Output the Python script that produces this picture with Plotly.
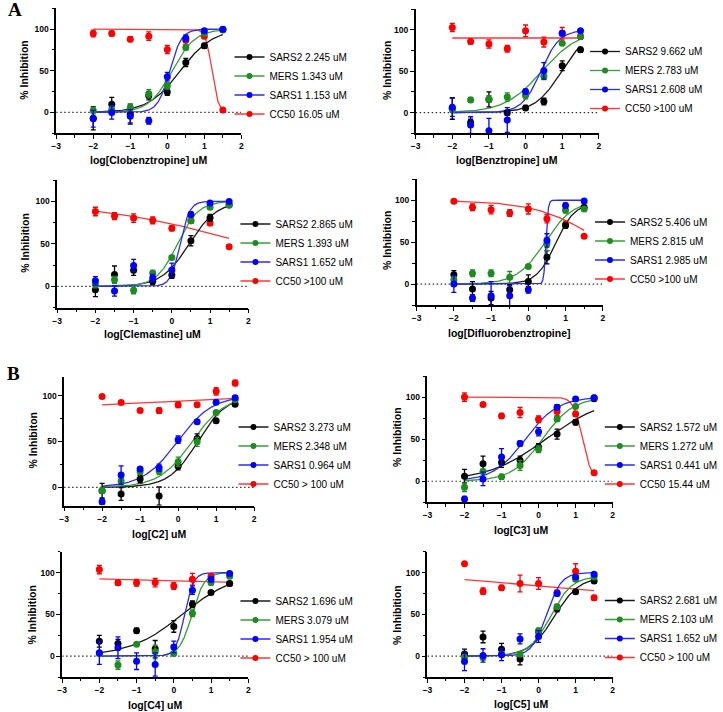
import numpy as np
import plotly.graph_objects as go

W, H = 723, 712

log_conc = [-2, -1.5, -1, -0.5, 0, 0.5, 1, 1.5]
series_names = ["SARS2", "MERS", "SARS1", "CC50"]
point_colors = ["#000000", "#1e8c1e", "#0000ff", "#ff0000"]
curve_colors = ["#1a1a1a", "#35a035", "#2a2aff", "#ff3535"]

# ---------- Panel A1: Clobenztropine ----------
clob_sars2 = [-7, 10, -2, 20, 24.5, 60, 80, 99.5]
clob_sars2_err = [14, 8, 12, 5, 4, 5, 3, 2]
clob_mers = [2.4, 3.6, 6, 22.5, 32, 78, 95, 99]
clob_mers_err = [4, 4, 4, 5, 4, 3, 2, 1]
clob_sars1 = [-7.6, 0, -4.5, -10, 43, 89, 98, 100]
clob_sars1_err = [10, 8, 8, 4, 5, 4, 2, 1]
clob_cc50 = [94.8, 94.8, 88, 91.6, 75.5, 86.7, 91.6, 3]
clob_cc50_err = [4, 3, 3, 5, 5, 5, 3, 1]
# fit params: bottom, top, logIC50, hill
clob_fits = [[0, 100, 0.351, 1.0], [0, 100, 0.128, 1.4], [0, 100, 0.062, 2.7], [0, 100, 1.205, -5.0]]
clob_labels = ["SARS2 2.245 uM", "MERS 1.343 uM", "SARS1 1.153 uM", "CC50 16.05 uM"]

# ---------- Panel A2: Benztropine ----------
benz_sars2 = [5, -12, 16, 0, 5.7, 13.4, 56.7, 76]
benz_sars2_err = [13, 4, 9, 3, 3, 4, 6, 3]
benz_mers = [4, 15.4, 16.6, 19, 20.6, 44, 84, 92]
benz_mers_err = [4, 3, 4, 5, 4, 4, 2, 2]
benz_sars1 = [6.5, -15, -22, -9, 25.5, 50.6, 96, 99]
benz_sars1_err = [11, 10, 15, 15, 3, 10, 3, 1]
benz_cc50 = [103, 86, 83, 77.3, 99, 85.4, 96, 92]
benz_cc50_err = [5, 3, 5, 4, 7, 6, 7, 3]
benz_fits = [[0, 100, 0.985, 1.2], [0, 100, 0.4445, 0.86], [0, 100, 0.416, 1.7], [90.3, 90.3, 0.0, 1.0]]
benz_labels = ["SARS2 9.662 uM", "MERS 2.783 uM", "SARS1 2.608 uM", "CC50 >100 uM"]

# ---------- Panel A3: Clemastine ----------
clem_sars2 = [-4, 14, 19, 6, 13.5, 53.7, 80.7, 95.8]
clem_sars2_err = [8, 10, 6, 4, 4, 6, 4, 2]
clem_mers = [2.3, 7.7, -4.6, 15.8, 34, 77.2, 93, 95.4]
clem_mers_err = [4, 4, 4, 3, 2, 2, 2, 2]
clem_sars1 = [6.6, -5.4, 24.7, 10, 19.3, 84.6, 98, 99.6]
clem_sars1_err = [5, 6, 7, 4, 8, 3, 2, 1]
clem_cc50 = [88, 82.6, 80.3, 77.6, 68.3, 77.2, 74.5, 46.7]
clem_cc50_err = [5, 4, 5, 4, 3, 3, 3, 2]
clem_fits = [[0, 100, 0.457, 1.2], [0, 100, 0.144, 1.6], [0, 100, 0.218, 3.5], [0, 100, 2.0, -0.22]]
clem_labels = ["SARS2 2.865 uM", "MERS 1.393 uM", "SARS1 1.652 uM", "CC50 >100 uM"]

# ---------- Panel A4: Difluorobenztropine ----------
difl_sars2 = [11, -6, -16.7, -6.8, 3, 32, 70, 91.6]
difl_sars2_err = [5, 9, 8, 6, 8, 8, 3, 2]
difl_mers = [5, 13, 13, 8, 21, 48, 88, 89.6]
difl_mers_err = [4, 4, 4, 7, 2, 8, 3, 2]
difl_sars1 = [0, -16.7, -14, -14, -6.8, 52, 93.6, 99.2]
difl_sars1_err = [10, 4, 17, 12, 4, 8, 3, 1]
difl_cc50 = [98.8, 91.6, 88.8, 84.9, 89.6, 78, 71, 57]
difl_cc50_err = [2, 4, 5, 4, 6, 5, 4, 2]
difl_fits = [[0, 97, 0.733, 1.7], [0, 100, 0.449, 1.15], [0, 100, 0.475, 15.0], [0, 100, 2.0, -0.5]]
difl_labels = ["SARS2 5.406 uM", "MERS 2.815 uM", "SARS1 2.985 uM", "CC50 >100 uM"]

# ---------- Panel B1: C2 ----------
c2_sars2 = [-3.6, -7.2, 9, -9.4, 23, 53.3, 72.5, 90.6]
c2_sars2_err = [8, 7, 4, 10, 4, 5, 2, 2]
c2_mers = [-3.6, 6.9, 17, 17.8, 28, 49.6, 81.5, 95.6]
c2_mers_err = [3, 3, 3, 4, 5, 5, 2, 2]
c2_sars1 = [-15.6, 13.4, 20, 21.4, 52, 71.4, 92.8, 97.8]
c2_sars1_err = [3, 10, 2, 4, 4, 2, 2, 2]
c2_cc50 = [99, 92.4, 83.7, 83.7, 90, 90.2, 104.7, 113.8]
c2_cc50_err = [2, 2, 2, 3, 3, 2, 4, 3]
c2_fits = [[0, 100, 0.515, 1.15], [0, 100, 0.371, 1.0], [0, 100, -0.016, 0.95], [73.5, 113.5, -0.25, 0.087]]
c2_labels = ["SARS2 3.273 uM", "MERS 2.348 uM", "SARS1 0.964 uM", "CC50 > 100 uM"]

# ---------- Panel B2: C3 ----------
c3_sars2 = [6, 20.8, 22.4, 24.8, 40.8, 56, 70, 98]
c3_sars2_err = [8, 9, 6, 5, 4, 6, 3, 2]
c3_mers = [-7.2, 11.6, 5.2, 18.8, 38, 74, 88.8, 99.2]
c3_mers_err = [5, 3, 3, 6, 4, 3, 2, 1]
c3_sars1 = [-21, 2.8, 28.8, 44.8, 58.8, 88, 97.6, 99.2]
c3_sars1_err = [3, 8, 10, 3, 5, 3, 2, 1]
c3_cc50 = [100, 91.2, 77.6, 81.6, 73.6, 82.8, 80, 10]
c3_cc50_err = [5, 2, 3, 6, 4, 5, 3, 1]
c3_fits = [[0, 100, 0.196, 0.55], [0, 100, 0.1045, 1.05], [0, 100, -0.356, 1.0], [0, 100, 1.189, -3.5]]
c3_labels = ["SARS2 1.572 uM", "MERS 1.272 uM", "SARS1 0.441 uM", "CC50 15.44 uM"]

# ---------- Panel B3: C4 ----------
c4_sars2 = [17.8, 15, 30.4, 8.7, 35.6, 62, 76.3, 87]
c4_sars2_err = [7, 5, 3, 10, 7, 4, 2, 2]
c4_mers = [3.2, -10.7, 14.2, 5.1, 3.2, 51.4, 88, 95.6]
c4_mers_err = [3, 5, 2, 8, 2, 4, 3, 2]
c4_sars1 = [4, 10, -6, -10, 11, 79, 92, 98.8]
c4_sars1_err = [14, 13, 10, 14, 7, 5, 3, 1]
c4_cc50 = [103.6, 87.7, 87.7, 88, 84, 92, 95.6, 87]
c4_cc50_err = [5, 3, 4, 5, 4, 7, 3, 2]
c4_fits = [[0, 100, 0.229, 0.62], [0, 100, 0.488, 2.6], [0, 100, 0.291, 3.6], [70.5, 110.5, -0.25, -0.05]]
c4_labels = ["SARS2 1.696 uM", "MERS 3.079 uM", "SARS1 1.954 uM", "CC50 > 100 uM"]

# ---------- Panel B4: C5 ----------
c5_sars2 = [2.4, 23, 8.3, -3.6, 29.4, 57, 77, 90]
c5_sars2_err = [6, 7, 7, 7, 3, 4, 2, 2]
c5_mers = [-1.6, -1.6, 2.4, 2.4, 30.5, 59, 92, 94.8]
c5_mers_err = [3, 3, 3, 3, 3, 3, 2, 2]
c5_sars1 = [-6.3, 0.8, 1.6, 20.6, 23.4, 75, 94.8, 98]
c5_sars1_err = [11, 8, 7, 6, 7, 3, 2, 1]
c5_cc50 = [110.7, 77.8, 81.7, 86.9, 86.9, 76, 101.6, 69.8]
c5_cc50_err = [2, 4, 3, 10, 7, 3, 9, 3]
c5_fits = [[0, 95, 0.428, 1.3], [0, 96, 0.323, 1.5], [0, 100, 0.218, 2.2], [65, 105, -0.25, -0.17]]
c5_labels = ["SARS2 2.681 uM", "MERS 2.103 uM", "SARS1 1.652 uM", "CC50 > 100 uM"]

x_titles = ["log[Clobenztropine] uM", "log[Benztropine] uM", "log[Clemastine] uM",
            "log[Difluorobenztropine]", "log[C2] uM", "log[C3] uM", "log[C4] uM", "log[C5] uM"]
y_titles = ["% Inhibition", "% Inhibition", "% Inhibition", "% Inhibition",
            "% Inhibiton", "% Inhibition", "% Inhibition", "% Inhibition"]

panels = [
    ([clob_sars2, clob_mers, clob_sars1, clob_cc50],
     [clob_sars2_err, clob_mers_err, clob_sars1_err, clob_cc50_err], clob_fits, clob_labels),
    ([benz_sars2, benz_mers, benz_sars1, benz_cc50],
     [benz_sars2_err, benz_mers_err, benz_sars1_err, benz_cc50_err], benz_fits, benz_labels),
    ([clem_sars2, clem_mers, clem_sars1, clem_cc50],
     [clem_sars2_err, clem_mers_err, clem_sars1_err, clem_cc50_err], clem_fits, clem_labels),
    ([difl_sars2, difl_mers, difl_sars1, difl_cc50],
     [difl_sars2_err, difl_mers_err, difl_sars1_err, difl_cc50_err], difl_fits, difl_labels),
    ([c2_sars2, c2_mers, c2_sars1, c2_cc50],
     [c2_sars2_err, c2_mers_err, c2_sars1_err, c2_cc50_err], c2_fits, c2_labels),
    ([c3_sars2, c3_mers, c3_sars1, c3_cc50],
     [c3_sars2_err, c3_mers_err, c3_sars1_err, c3_cc50_err], c3_fits, c3_labels),
    ([c4_sars2, c4_mers, c4_sars1, c4_cc50],
     [c4_sars2_err, c4_mers_err, c4_sars1_err, c4_cc50_err], c4_fits, c4_labels),
    ([c5_sars2, c5_mers, c5_sars1, c5_cc50],
     [c5_sars2_err, c5_mers_err, c5_sars1_err, c5_cc50_err], c5_fits, c5_labels),
]

# ---------- layout geometry (pixels) ----------
# plot area: x_left, x_right, y_top, y_bottom
plot_px = [(52, 240, 8.3, 133.3), (417, 603, 9.3, 133.3), (53, 247, 180, 307.7), (418, 607, 179.3, 305),
           (60, 253, 377.3, 505.7), (429, 617, 376, 502.3), (58, 247, 551.7, 677), (429, 617, 551.7, 677)]
y_ranges = [[-25, 125]] * 4 + [[-20, 120]] + [[-25, 125]] * 3
# legend: text left x, vertical middle of the 4 rows
legend_px = [(267, 85), (628, 79.5), (273, 252), (633, 250), (271, 455), (643, 455), (273, 629), (643, 628.5)]
xtitle_px = [(146, 160), (510, 160), (150, 334), (512, 333), (156, 534), (524, 530), (152, 705), (524, 704)]
ytitle_px = [(19, 70), (388, 70), (20, 243), (388, 240), (28, 440), (398, 437), (27, 615), (398, 615)]


def px_x(v):
    return v / W


def px_y(v):
    return 1 - v / H


def four_pl(xs, p):
    bottom, top, logic, hill = p
    xs = np.asarray(xs, dtype=float)
    return bottom + (top - bottom) / (1 + 10 ** ((logic - xs) * hill))


fig = go.Figure()
xfit = np.linspace(-2, 1.5, 500)
draw_order = [3, 0, 1, 2]
FONT = "Liberation Sans, Arial, sans-serif"

annotations = []
shapes = []
for i, (vals, errs, fits, labels) in enumerate(panels):
    n = i + 1
    xa = "x" if n == 1 else f"x{n}"
    ya = "y" if n == 1 else f"y{n}"
    lg = "legend" if n == 1 else f"legend{n}"
    # curves
    for k in draw_order:
        fig.add_trace(go.Scatter(x=xfit, y=four_pl(xfit, fits[k]), mode="lines",
                                 line=dict(color=curve_colors[k], width=1.3),
                                 xaxis=xa, yaxis=ya, showlegend=False, hoverinfo="skip"))
    # points with error bars
    for k in draw_order:
        fig.add_trace(go.Scatter(x=log_conc, y=vals[k], mode="markers",
                                 marker=dict(color=point_colors[k], size=7),
                                 error_y=dict(type="data", array=errs[k], visible=True,
                                              color=point_colors[k], thickness=1.3, width=2.5),
                                 xaxis=xa, yaxis=ya, showlegend=False))
    # legend entries
    for k in range(4):
        fig.add_trace(go.Scatter(x=[None], y=[None], mode="lines+markers", name=labels[k],
                                 marker=dict(color=point_colors[k], size=6),
                                 line=dict(color=curve_colors[k], width=1.3),
                                 xaxis=xa, yaxis=ya, legend=lg, showlegend=True))
    xl, xr, yt, yb = plot_px[i]
    axis_common = dict(showline=True, linecolor="black", linewidth=1.5, showgrid=False, zeroline=False,
                       ticks="outside", ticklen=4, tickwidth=1.3, tickcolor="black",
                       tickfont=dict(family=FONT, size=8.5, color="black", weight="bold"))
    fig.layout[f"xaxis{'' if n == 1 else n}"] = dict(
        domain=[px_x(xl), px_x(xr)], range=[-3, 2], anchor=ya, tick0=-3, dtick=1,
        minor=dict(dtick=0.5, ticklen=2.5, tickwidth=1.2, ticks="outside", tickcolor="black", showgrid=False),
        **axis_common)
    fig.layout[f"yaxis{'' if n == 1 else n}"] = dict(
        domain=[px_y(yb), px_y(yt)], range=y_ranges[i], anchor=xa, tick0=0, dtick=50,
        minor=dict(dtick=25, ticklen=2.5, tickwidth=1.2, ticks="outside", tickcolor="black", showgrid=False),
        **axis_common)
    tx, tmid = legend_px[i]
    fig.layout[lg] = dict(x=px_x(tx - 39), y=px_y(tmid - 42.5), xanchor="left", yanchor="top",
                          font=dict(family=FONT, size=10, color="black"),
                          bgcolor="rgba(0,0,0,0)", borderwidth=0, tracegroupgap=0, itemwidth=30)
    shapes.append(dict(type="line", xref=xa, yref=ya, x0=-3, x1=2, y0=0, y1=0, layer="below",
                       line=dict(color="#333333", width=1.2, dash="1.5px,2.5px")))
    cx, cy = xtitle_px[i]
    annotations.append(dict(text=x_titles[i], x=px_x(cx), y=px_y(cy), xref="paper", yref="paper",
                            xanchor="center", yanchor="middle", showarrow=False,
                            font=dict(family=FONT, size=10.5, color="black", weight="bold")))
    cx, cy = ytitle_px[i]
    annotations.append(dict(text=y_titles[i], x=px_x(cx), y=px_y(cy), xref="paper", yref="paper",
                            xanchor="center", yanchor="middle", showarrow=False, textangle=-90,
                            font=dict(family=FONT, size=10.5, color="black", weight="bold")))

for letter, (lx, ly) in zip(["A", "B"], [(10, 10), (9, 373)]):
    annotations.append(dict(text=letter, x=px_x(lx), y=px_y(ly), xref="paper", yref="paper",
                            xanchor="center", yanchor="middle", showarrow=False,
                            font=dict(family="Liberation Serif, Times New Roman, serif", size=19,
                                      color="black", weight="bold")))

fig.update_layout(width=W, height=H, margin=dict(l=0, r=0, t=0, b=0),
                  plot_bgcolor="white", paper_bgcolor="white",
                  annotations=annotations, shapes=shapes, showlegend=True)

fig.write_html("out.html", config={"displayModeBar": False},
               post_script="document.body.style.margin='0px';document.body.style.overflow='hidden';")
